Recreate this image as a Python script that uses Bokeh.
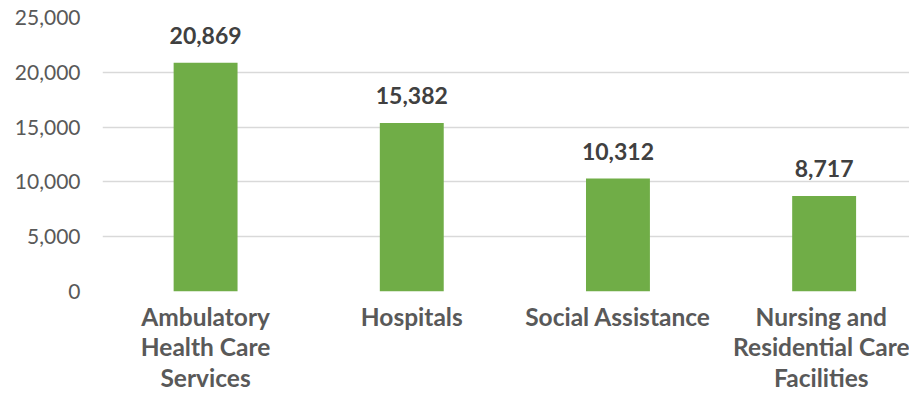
from bokeh.plotting import figure
from bokeh.models import Range1d, FixedTicker, NumeralTickFormatter, ColumnDataSource
from bokeh.embed import file_html
from bokeh.resources import INLINE
from bokeh.core.properties import value

categories = ["Ambulatory\nHealth Care\nServices", "Hospitals", "Social Assistance",
              "Nursing and\nResidential Care\nFacilities"]
values = [20869, 15382, 10312, 8717]
y_ticks = [0, 5000, 10000, 15000, 20000, 25000]

xs = [i + 0.5 for i in range(len(categories))]
labels = [f"{v:,}" for v in values]
src = ColumnDataSource(dict(x=xs, top=values, label=labels))

FONT = "Lato"

p = figure(width=909, height=397, output_backend="svg", toolbar_location=None,
           x_range=Range1d(0, 3.914), y_range=Range1d(0, 25000),
           min_border_left=102, min_border_right=0, min_border_top=17, min_border_bottom=106)
p.outline_line_color = None
p.background_fill_color = "white"
p.border_fill_color = "white"

p.vbar(x="x", top="top", width=0.31, bottom=0, source=src,
       fill_color="#70ad47", line_color=None)
p.text(x="x", y="top", text="label", source=src, text_align="center",
       text_baseline="alphabetic", y_offset=-27,
       text_font=value(FONT), text_font_style="bold", text_font_size="23px",
       text_color="#404040")

p.xgrid.visible = False
p.ygrid.ticker = FixedTicker(ticks=y_ticks)
p.ygrid.grid_line_color = "#d9d9d9"
p.ygrid.grid_line_width = 1.6

ya = p.yaxis[0]
ya.ticker = FixedTicker(ticks=y_ticks)
ya.formatter = NumeralTickFormatter(format="0,0")
ya.axis_line_color = None
ya.major_tick_line_color = None
ya.minor_tick_line_color = None
ya.major_tick_out = 0
ya.major_label_standoff = 22
ya.major_label_text_font = FONT
ya.major_label_text_font_size = "21px"
ya.major_label_text_color = "#595959"

xa = p.xaxis[0]
xa.ticker = FixedTicker(ticks=xs)
xa.major_label_overrides = {x: c for x, c in zip(xs, categories)}
xa.axis_line_color = None
xa.major_tick_line_color = None
xa.minor_tick_line_color = None
xa.major_tick_out = 0
xa.major_label_standoff = 10
xa.major_label_text_font = FONT
xa.major_label_text_font_style = "bold"
xa.major_label_text_font_size = "24.5px"
xa.major_label_text_color = "#595959"
xa.major_label_text_line_height = 1.06

open("out.html", "w").write(file_html(p, INLINE))
